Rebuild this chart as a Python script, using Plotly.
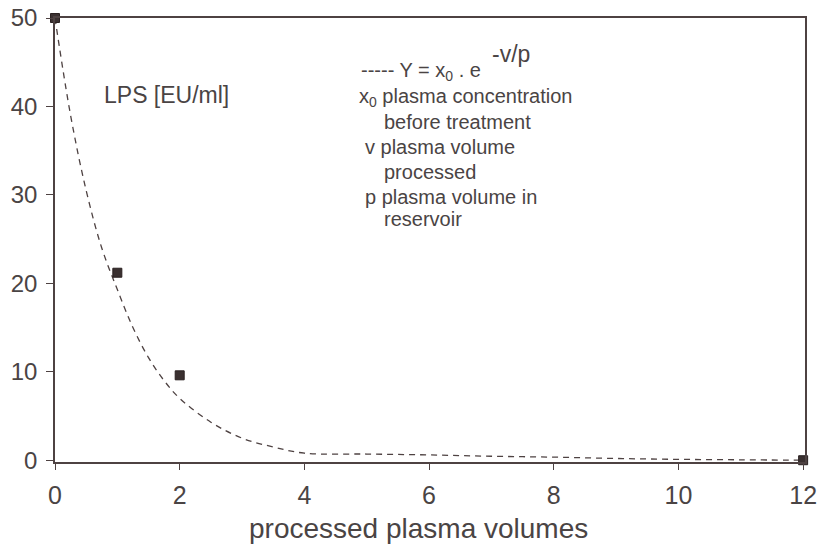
import plotly.graph_objects as go

# measured points
meas_x = [0, 1, 2, 12]
meas_y = [50, 21.2, 9.6, 0]

# dashed fitted curve
curve_x = [0, 0.25, 0.5, 0.75, 1, 1.25, 1.5, 1.75, 2, 2.5, 3, 3.5, 4, 5, 6, 7, 8, 9, 10, 11, 12]
curve_y = [50, 39, 30.5, 24.0, 19.3, 15.0, 11.6, 9.0, 7.0, 4.3, 2.5, 1.5, 0.8, 0.7, 0.6, 0.45, 0.35, 0.2, 0.1, 0.05, 0]

x_ticks = [0, 2, 4, 6, 8, 10, 12]
y_ticks = [0, 10, 20, 30, 40, 50]

ink = "#4e4242"
txt = "#4a4444"
FONT = "Liberation Sans, Arial, sans-serif"

fig = go.Figure()
fig.add_trace(go.Scatter(x=curve_x, y=curve_y, mode="lines", line=dict(color=ink, width=1.3, dash="6px,5px"),
                         line_shape="spline", cliponaxis=False, showlegend=False, hoverinfo="skip"))
fig.add_trace(go.Scatter(x=meas_x, y=meas_y, mode="markers",
                         marker=dict(symbol="square", size=9, color="#3a3030", line=dict(color="#2a2020", width=1)),
                         cliponaxis=False, showlegend=False))

notes = [
    ("LPS [EU/ml]", 0.75, 41.3, 23),
    ("----- Y = x<sub>0</sub> . e", 4.88, 44.0, 20),
    ("-v/p", 6.98, 45.9, 23),
    ("x<sub>0</sub> plasma concentration", 4.84, 41.0, 20),
    ("before treatment", 5.24, 38.2, 20),
    ("v plasma volume", 4.94, 35.4, 20),
    ("processed", 5.24, 32.6, 20),
    ("p plasma volume in", 4.94, 29.8, 20),
    ("reservoir", 5.24, 27.3, 20),
]
for t, x, y, s in notes:
    fig.add_annotation(x=x, y=y, text=t, showarrow=False, xanchor="left", yanchor="middle",
                       font=dict(size=s, color=txt, family=FONT))

fig.add_annotation(xref="paper", yref="paper", x=0.485, y=-0.15, text="processed plasma volumes",
                   showarrow=False, xanchor="center", yanchor="middle",
                   font=dict(size=28, color=txt, family=FONT))

fig.update_layout(
    width=818, height=545,
    margin=dict(l=55, r=13, t=18, b=83, autoexpand=False),
    paper_bgcolor="white", plot_bgcolor="white",
    font=dict(family=FONT, color=txt),
    xaxis=dict(range=[0, 12.03], tickvals=x_ticks, ticktext=[str(v) for v in x_ticks], automargin=False,
               showgrid=False, zeroline=False, showline=True, linecolor=ink, linewidth=1.5, mirror=True,
               ticks="outside", ticklen=6, tickcolor=ink, tickfont=dict(size=25, color=txt),
               ticklabelstandoff=4, ticklabeloverflow="allow"),
    yaxis=dict(range=[-0.2, 50], tickvals=y_ticks, ticktext=[str(v) for v in y_ticks], automargin=False,
               showgrid=False, zeroline=False, showline=True, linecolor=ink, linewidth=1.5, mirror=True,
               ticks="outside", ticklen=7, tickcolor=ink, tickfont=dict(size=24, color=txt),
               ticklabelstandoff=4, ticklabeloverflow="allow"),
)
# remove the page's default body margin so the figure fills the window exactly
fig.write_html("out.html", config={"displayModeBar": False},
               post_script="document.body.style.margin='0';document.body.style.overflow='hidden';")
